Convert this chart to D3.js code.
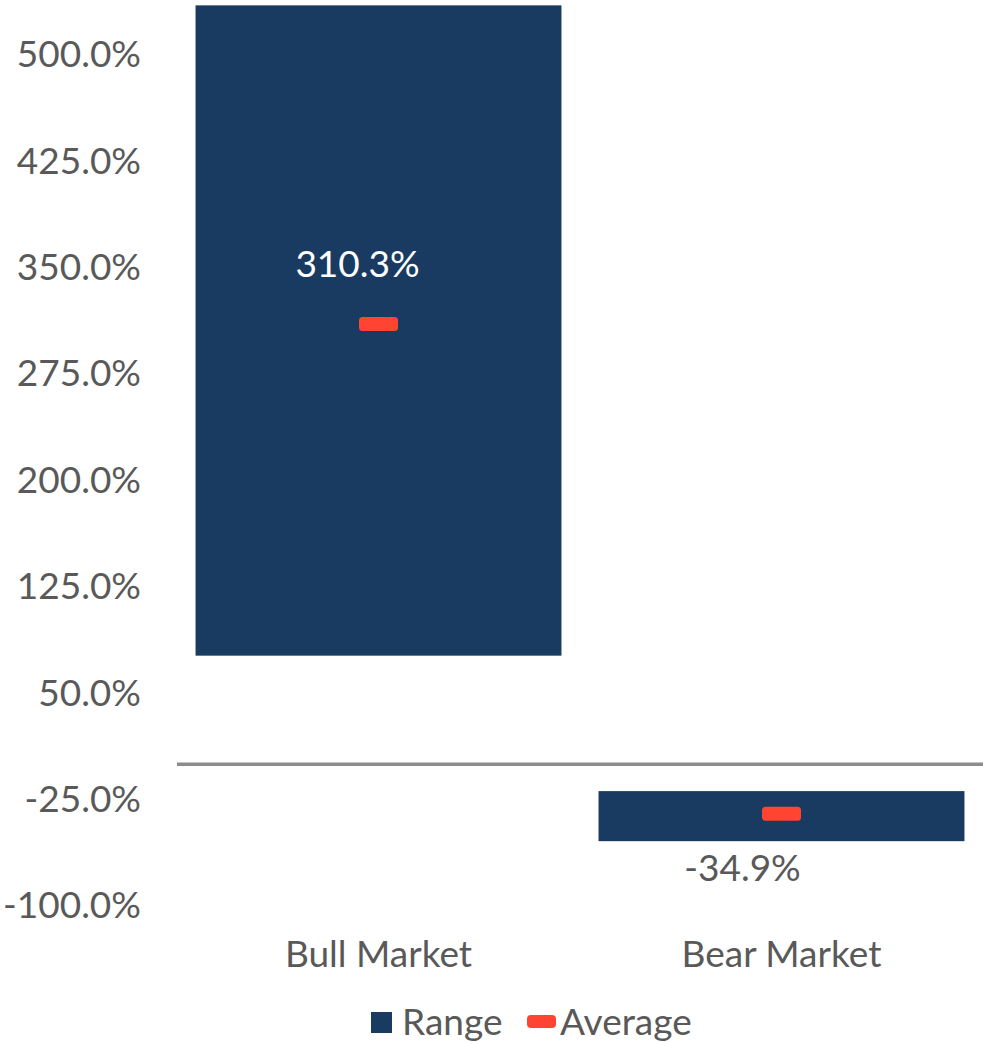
<!DOCTYPE html>
<html>
<head>
<meta charset="utf-8">
<script src="https://cdn.jsdelivr.net/npm/d3@7"></script>
<style>
  body { margin: 0; background: #fff; }
  text { font-family: Lato, 'Open Sans', sans-serif; fill: #595959; }
</style>
</head>
<body>
<div id="chart"></div>
<script>
const categories = ['Bull Market', 'Bear Market']
const rangeLow = [76.5, -54.3]
const rangeHigh = [535, -19.0]
const averages = [310.3, -34.9]
const tickValues = [-100, -25, 50, 125, 200, 275, 350, 425, 500]

const width = 983
const height = 1042
const barColor = '#193b62'
const avgColor = '#ff4431'
const fontSize = 37

const pct = d => d3.format('.1f')(d).replace('−', '-') + '%'

const svg = d3.select('#chart').append('svg').attr('width', width).attr('height', height)

const x = d3.scaleBand().domain(categories).range([177, 983]).paddingInner(0.092).paddingOuter(0.046)
const y = d3.scaleLinear().domain([-100, 500]).range([906, 55])

// y axis labels only
const yAxis = d3.axisLeft(y).tickValues(tickValues).tickSize(0).tickPadding(0).tickFormat(pct)
svg.append('g')
  .attr('transform', 'translate(141,0)')
  .call(yAxis)
  .call(g => g.select('.domain').remove())
  .selectAll('text')
  .style('font-size', fontSize + 'px')
  .style('font-family', 'Lato, sans-serif')
  .attr('fill', '#595959')

const data = categories.map((c, i) => ({ c, lo: rangeLow[i], hi: rangeHigh[i], avg: averages[i] }))

svg.append('g').selectAll('rect')
  .data(data)
  .enter()
  .append('rect')
  .attr('x', d => x(d.c))
  .attr('width', x.bandwidth())
  .attr('y', d => y(d.hi))
  .attr('height', d => y(d.lo) - y(d.hi))
  .attr('fill', barColor)

// zero line
svg.append('line')
  .attr('x1', 177).attr('x2', 983)
  .attr('y1', y(0)).attr('y2', y(0))
  .attr('stroke', '#8c8c8c').attr('stroke-width', 3.5)

// average markers
svg.append('g').selectAll('rect')
  .data(data)
  .enter()
  .append('rect')
  .attr('x', d => x(d.c) + x.bandwidth() / 2 - 19.5)
  .attr('y', d => y(d.avg) - 7)
  .attr('width', 39)
  .attr('height', 14)
  .attr('rx', 3.5)
  .attr('fill', avgColor)

// average labels
svg.append('text')
  .attr('x', x(categories[0]) + x.bandwidth() / 2 - 21)
  .attr('y', y(averages[0]) - 47)
  .attr('text-anchor', 'middle')
  .style('font-size', fontSize + 'px')
  .style('fill', '#fff')
  .text(pct(averages[0]))

svg.append('text')
  .attr('x', x(categories[1]) + x.bandwidth() / 2 - 39)
  .attr('y', y(averages[1]) + 67)
  .attr('text-anchor', 'middle')
  .style('font-size', fontSize + 'px')
  .text(pct(averages[1]))

// category labels
svg.append('g').selectAll('text')
  .data(categories)
  .enter()
  .append('text')
  .attr('x', d => x(d) + x.bandwidth() / 2)
  .attr('y', 967)
  .attr('text-anchor', 'middle')
  .style('font-size', fontSize + 'px')
  .text(d => d)

// legend
const legend = svg.append('g')
legend.append('rect').attr('x', 371).attr('y', 1012).attr('width', 21).attr('height', 21).attr('fill', barColor)
legend.append('text').attr('x', 402).attr('y', 1035).style('font-size', fontSize + 'px').text('Range')
legend.append('rect').attr('x', 527).attr('y', 1015).attr('width', 29).attr('height', 13).attr('rx', 4).attr('fill', avgColor)
legend.append('text').attr('x', 560).attr('y', 1035).style('font-size', fontSize + 'px').text('Average')
</script>
</body>
</html>
